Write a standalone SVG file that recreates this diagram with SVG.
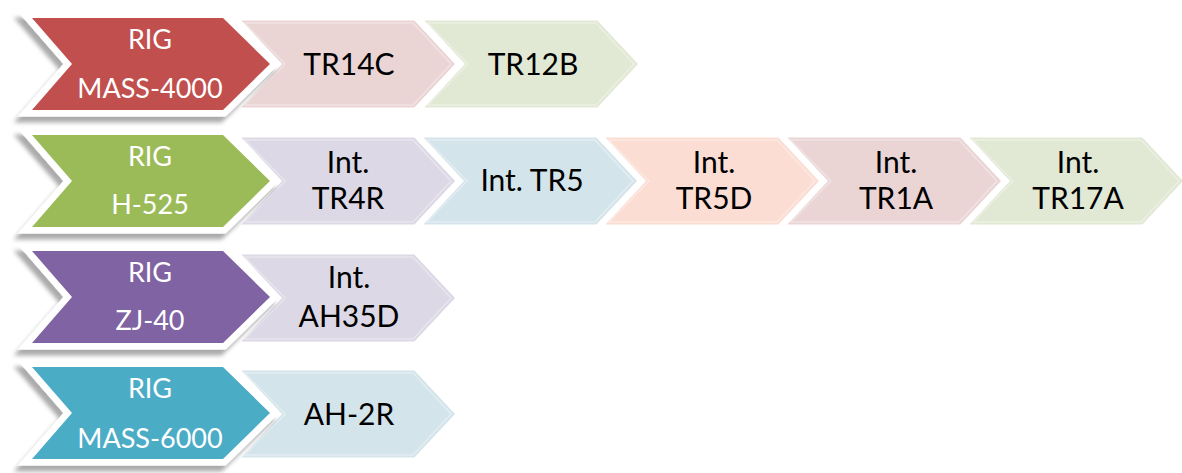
<svg xmlns="http://www.w3.org/2000/svg" xmlns:xlink="http://www.w3.org/1999/xlink" width="1182" height="473" viewBox="0 0 1182 473">
  <style>
    .main-txt { font-family: Lato, "Liberation Sans", sans-serif; font-size: 27px; fill: #ffffff; text-anchor: middle; }
    .sec-txt { font-family: Lato, "Liberation Sans", sans-serif; font-size: 30px; fill: #000000; text-anchor: middle; }
    .sec-edge { fill: none; stroke: #ffffff; stroke-opacity: 0.35; stroke-width: 1.5; }
  </style>
  <defs>
    <filter id="shade" x="-10%" y="-15%" width="125%" height="140%">
      <feGaussianBlur in="SourceAlpha" stdDeviation="2"/>
      <feOffset dx="-4" dy="6" result="b"/>
      <feFlood flood-color="#000000" flood-opacity="0.33"/>
      <feComposite in2="b" operator="in" result="s"/>
      <feMerge><feMergeNode in="s"/><feMergeNode in="SourceGraphic"/></feMerge>
    </filter>
    <!-- lead chevron: 238 wide, 92 high, white rim -->
    <g id="lead">
      <polygon points="0,0 191,0 238,46 191,92 0,92 40,46" stroke="#ffffff" stroke-width="13" stroke-linejoin="miter" paint-order="stroke" filter="url(#shade)"/>
    </g>
    <!-- follow-on chevron: 219 wide, 90 high -->
    <g id="step">
      <polygon points="0,0 177,0 219,45 177,90 0,90 42,45" stroke="#ffffff" stroke-width="3" stroke-linejoin="miter"/>
      <polygon class="sec-edge" points="7,4 175,4 213,45 175,86 7,86 47,45"/>
    </g>
  </defs>

  <!-- row 1 -->
  <g id="tr12b"><use xlink:href="#step" x="421" y="19" fill="#E1E8D4"/><text class="sec-txt" x="533" y="75">TR12B</text></g>
  <g id="tr14c"><use xlink:href="#step" x="238" y="19" fill="#EAD4D4"/><text class="sec-txt" x="349" y="75">TR14C</text></g>
  <g id="rig-mass4000"><use xlink:href="#lead" x="32" y="18" fill="#C0504D"/>
    <text class="main-txt" x="150" y="49">RIG</text><text class="main-txt" x="150" y="98">MASS-4000</text></g>

  <!-- row 2 -->
  <g id="tr17a"><use xlink:href="#step" x="966" y="136" fill="#E1E8D4"/><text class="sec-txt" x="1078" y="173">Int.</text><text class="sec-txt" x="1078" y="209">TR17A</text></g>
  <g id="tr1a"><use xlink:href="#step" x="784" y="136" fill="#EAD4D4"/><text class="sec-txt" x="896" y="173">Int.</text><text class="sec-txt" x="896" y="209">TR1A</text></g>
  <g id="tr5d"><use xlink:href="#step" x="602" y="136" fill="#FBDDD3"/><text class="sec-txt" x="714" y="173">Int.</text><text class="sec-txt" x="714" y="209">TR5D</text></g>
  <g id="tr5"><use xlink:href="#step" x="420" y="136" fill="#D4E4EB"/><text class="sec-txt" x="532" y="191">Int. TR5</text></g>
  <g id="tr4r"><use xlink:href="#step" x="238" y="136" fill="#DCD8E5"/><text class="sec-txt" x="348" y="173">Int.</text><text class="sec-txt" x="348" y="209">TR4R</text></g>
  <g id="rig-h525"><use xlink:href="#lead" x="32" y="135" fill="#9BBB59"/>
    <text class="main-txt" x="150" y="166">RIG</text><text class="main-txt" x="150" y="214">H-525</text></g>

  <!-- row 3 -->
  <g id="ah35d"><use xlink:href="#step" x="238" y="253" fill="#DCD8E5"/><text class="sec-txt" x="349" y="288">Int.</text><text class="sec-txt" x="349" y="327">AH35D</text></g>
  <g id="rig-zj40"><use xlink:href="#lead" x="32" y="251" fill="#8064A2"/>
    <text class="main-txt" x="150" y="282">RIG</text><text class="main-txt" x="150" y="330">ZJ-40</text></g>

  <!-- row 4 -->
  <g id="ah2r"><use xlink:href="#step" x="238" y="369" fill="#D4E4EB"/><text class="sec-txt" x="349" y="425">AH-2R</text></g>
  <g id="rig-mass6000"><use xlink:href="#lead" x="32" y="367" fill="#4BACC6"/>
    <text class="main-txt" x="150" y="398">RIG</text><text class="main-txt" x="150" y="448">MASS-6000</text></g>
</svg>
